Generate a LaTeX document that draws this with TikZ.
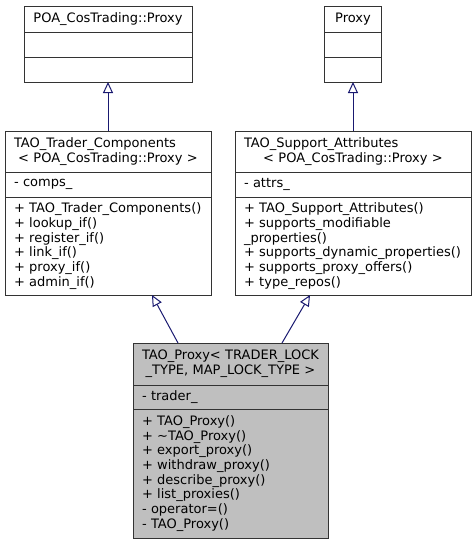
\documentclass[tikz,border=0pt]{standalone}
\usepackage{fontspec}
\setmainfont{DejaVu Sans}
\usetikzlibrary{positioning}
\usetikzlibrary{arrows.meta}

\definecolor{edgeblue}{HTML}{191970}
\definecolor{boxgray}{HTML}{BFBFBF}
\newcommand{\lefthead}[1]{#1\hskip0pt plus1filll\null}

\begin{document}
\begin{tikzpicture}[x=1pt, y=-1pt]

  \tikzstyle{uml}=[draw = black!80, line width = 1pt, fill = white, outer sep = 0pt,
                   inner xsep = 9pt, inner ysep = 0pt, font = \fontsize{13}{14.7}\selectfont]
  \tikzstyle{classname}=[uml, align = center, anchor = north west]
  \tikzstyle{members}=[uml, align = left]
  \tikzstyle{inherit}=[-{Triangle[length = 11pt, width = 10pt, fill = white]}, edgeblue, line width = 1pt]

  \useasboundingbox (0,0) rectangle (476,544);

  % base classes
  \node[classname, text width = 150pt, minimum height = 26pt] (poaproxy) at (24,6) {POA\_CosTrading::Proxy};
  \node[members, text width = 150pt, minimum height = 25pt] (poaproxy-attr) [below = 0pt of poaproxy] {};
  \node[members, text width = 150pt, minimum height = 25pt] (poaproxy-ops) [below = 0pt of poaproxy-attr] {};

  \node[classname, text width = 39pt, minimum height = 26pt] (proxy) at (324.5,6) {Proxy};
  \node[members, text width = 39pt, minimum height = 25pt] (proxy-attr) [below = 0pt of proxy] {};
  \node[members, text width = 39pt, minimum height = 25pt] (proxy-ops) [below = 0pt of proxy-attr] {};

  % templates
  \node[classname, text width = 188pt, minimum height = 41pt] (tradercomp) at (5,131)
    {\lefthead{TAO\_Trader\_Components}\\ <~POA\_CosTrading::Proxy~>};
  \node[members, text width = 188pt, minimum height = 25pt] (tradercomp-attr) [below = 0pt of tradercomp] {-~comps\_};
  \node[members, text width = 188pt, minimum height = 98pt] (tradercomp-ops) [below = 0pt of tradercomp-attr]
    {+~TAO\_Trader\_Components()\\ +~lookup\_if()\\ +~register\_if()\\ +~link\_if()\\ +~proxy\_if()\\ +~admin\_if()};

  \node[classname, text width = 218pt, minimum height = 41pt] (supportattr) at (235,131)
    {\lefthead{TAO\_Support\_Attributes}\\ <~POA\_CosTrading::Proxy~>};
  \node[members, text width = 218pt, minimum height = 25pt] (supportattr-attr) [below = 0pt of supportattr] {-~attrs\_};
  \node[members, text width = 218pt, minimum height = 98pt] (supportattr-ops) [below = 0pt of supportattr-attr]
    {+~TAO\_Support\_Attributes()\\ +~supports\_modifiable\\ \_properties()\\ +~supports\_dynamic\_properties()\\
     +~supports\_proxy\_offers()\\ +~type\_repos()};

  % the class itself
  \node[classname, fill = boxgray, text width = 177pt, minimum height = 42pt] (taoproxy) at (133,343)
    {\lefthead{TAO\_Proxy<~TRADER\_LOCK}\\ \_TYPE,~MAP\_LOCK\_TYPE~>};
  \node[members, fill = boxgray, text width = 177pt, minimum height = 24pt] (taoproxy-attr) [below = 0pt of taoproxy] {-~trader\_};
  \node[members, fill = boxgray, text width = 177pt, minimum height = 129pt] (taoproxy-ops) [below = 0pt of taoproxy-attr]
    {+~TAO\_Proxy()\\ +~\textasciitilde TAO\_Proxy()\\ +~export\_proxy()\\ +~withdraw\_proxy()\\ +~describe\_proxy()\\
     +~list\_proxies()\\ -~operator=()\\ -~TAO\_Proxy()};

  \draw[inherit] (tradercomp.north) -- (poaproxy-ops.south);
  \draw[inherit] (supportattr.north) -- (proxy-ops.south);
  \draw[inherit] ([xshift = 45pt]taoproxy.north west) -- ([xshift = 147pt]tradercomp-ops.south west);
  \draw[inherit] ([xshift = 149pt]taoproxy.north west) -- ([xshift = 75pt]supportattr-ops.south west);

\end{tikzpicture}
\end{document}
